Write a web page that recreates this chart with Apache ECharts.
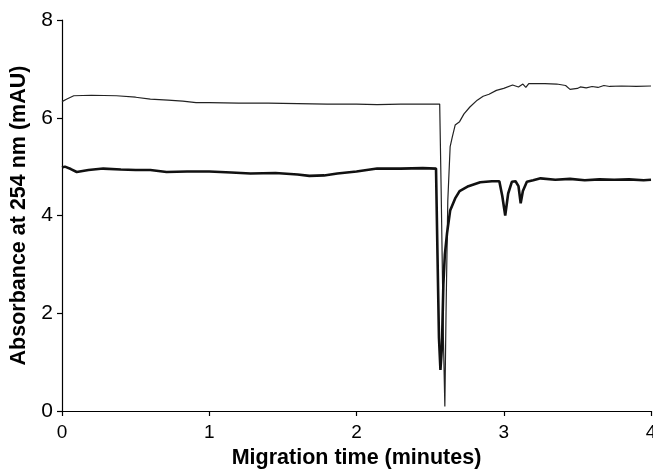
<!DOCTYPE html>
<html>
<head>
<meta charset="utf-8">
<script src="https://cdn.jsdelivr.net/npm/echarts@6/dist/echarts.min.js"></script>
<style>
html,body{margin:0;padding:0;background:#fff;}
#chart{width:653px;height:470px;}
</style>
</head>
<body>
<div id="chart"></div>
<script>
// upper trace (thin line)
var timeUpper=[0,0.03,0.08,0.2,0.37,0.5,0.6,0.72,0.82,0.91,1.0,1.2,1.4,1.6,1.8,2.0,2.14,2.3,2.45,2.565,2.575,2.59,2.60,2.608,2.62,2.636,2.65,2.67,2.70,2.73,2.77,2.82,2.86,2.9,2.95,3.0,3.06,3.1,3.13,3.15,3.17,3.2,3.28,3.36,3.42,3.45,3.5,3.52,3.56,3.6,3.64,3.68,3.72,3.8,3.9,4.0];
var absUpper=[6.33,6.38,6.45,6.46,6.45,6.42,6.38,6.36,6.34,6.31,6.31,6.30,6.30,6.29,6.28,6.28,6.27,6.28,6.28,6.28,4.5,1.5,0.09,2.0,4.3,5.41,5.6,5.85,5.92,6.08,6.22,6.36,6.44,6.48,6.56,6.6,6.67,6.63,6.69,6.62,6.70,6.70,6.70,6.69,6.66,6.58,6.60,6.63,6.61,6.64,6.62,6.66,6.64,6.65,6.64,6.65];

// lower trace (thick line)
var timeLower=[0,0.02,0.06,0.1,0.18,0.28,0.4,0.5,0.6,0.71,0.85,1.0,1.15,1.28,1.45,1.6,1.68,1.78,1.87,2.0,2.14,2.3,2.45,2.54,2.55,2.56,2.57,2.58,2.59,2.60,2.615,2.636,2.67,2.70,2.76,2.84,2.92,2.97,2.99,3.01,3.03,3.055,3.08,3.1,3.115,3.13,3.157,3.2,3.25,3.35,3.45,3.55,3.65,3.75,3.85,3.95,4.0];
var absLower=[4.98,5.0,4.95,4.89,4.93,4.96,4.94,4.93,4.93,4.89,4.9,4.9,4.88,4.86,4.87,4.84,4.81,4.82,4.86,4.9,4.96,4.96,4.97,4.96,3.2,1.5,0.84,1.3,2.6,3.2,3.64,4.1,4.35,4.5,4.6,4.68,4.7,4.7,4.4,4.0,4.45,4.69,4.7,4.6,4.25,4.5,4.69,4.72,4.76,4.73,4.75,4.72,4.74,4.73,4.74,4.72,4.73];

var xTicks={min:0,max:4,step:1};
var yTicks={min:0,max:8,step:2};

function pairs(xs,ys){
	var out=[];
	for(var i=0;i<xs.length;i++){
		out.push([xs[i],ys[i]]);
	}
	return out;
}

var font='"Liberation Sans", Arial, sans-serif';
function axisBase(labelSize,labelMargin,nameSize){
	return {
		axisLine:{show:true,lineStyle:{color:'#000',width:1.2}},
		axisTick:{show:true,inside:false,length:5,lineStyle:{color:'#000',width:1.2}},
		splitLine:{show:false},
		axisLabel:{color:'#000',fontSize:labelSize,margin:labelMargin,fontFamily:font},
		nameLocation:'middle',
		nameTextStyle:{color:'#000',fontSize:nameSize,fontWeight:'bold',fontFamily:font}
	};
}

var myChart=echarts.init(document.getElementById('chart'),null,{renderer:'canvas'});
var xAxis=axisBase(19,12,21.5);
xAxis.type='value';
xAxis.min=xTicks.min;xAxis.max=xTicks.max;xAxis.interval=xTicks.step;
xAxis.name='Migration time (minutes)';
xAxis.nameGap=33;

var yAxis=axisBase(21,9,21.5);
yAxis.type='value';
yAxis.min=yTicks.min;yAxis.max=yTicks.max;yAxis.interval=yTicks.step;
yAxis.name='Absorbance at 254 nm (mAU)';
yAxis.nameGap=32;

myChart.setOption({
	animation:false,
	backgroundColor:'#fff',
	grid:{left:62,right:2,top:20,bottom:59,containLabel:false,outerBoundsMode:'none'},
	xAxis:xAxis,
	yAxis:yAxis,
	series:[
		{
			type:'line',
			name:'upper',
			data:pairs(timeUpper,absUpper),
			showSymbol:false,
			lineStyle:{color:'#222',width:1.2}
		},
		{
			type:'line',
			name:'lower',
			data:pairs(timeLower,absLower),
			showSymbol:false,
			lineStyle:{color:'#111',width:2.6}
		}
	]
});
</script>
</body>
</html>
